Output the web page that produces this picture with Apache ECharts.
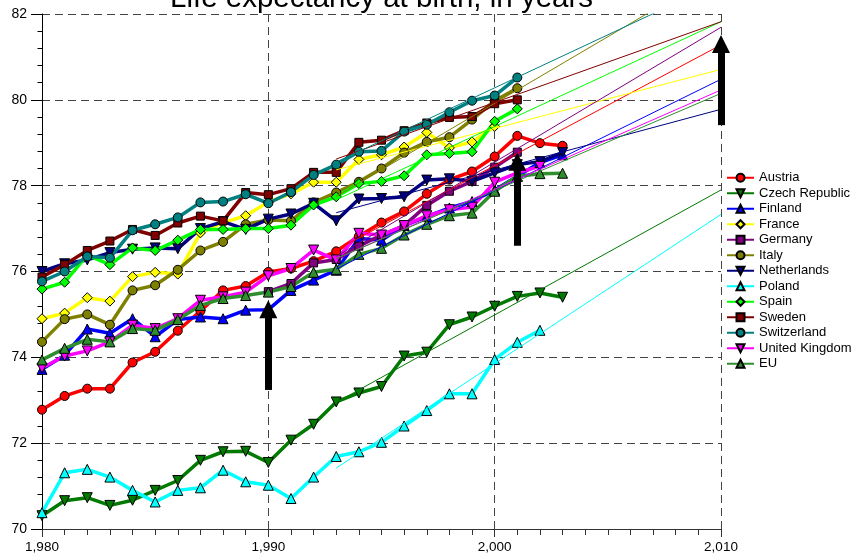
<!DOCTYPE html>
<html>
<head>
<meta charset="utf-8">
<script src="https://cdn.jsdelivr.net/npm/echarts@6/dist/echarts.min.js"></script>
<style>
html,body{margin:0;padding:0;background:#fff;}
#chart{width:862px;height:560px;}
</style>
</head>
<body>
<div id="chart"></div>
<script>
// ---- data ----
const years = [1980,1981,1982,1983,1984,1985,1986,1987,1988,1989,1990,1991,1992,1993,1994,1995,1996,1997,1998,1999,2000,2001,2002,2003];

const austria     = [72.78,73.10,73.27,73.27,73.88,74.13,74.62,75.08,75.56,75.66,75.99,76.07,76.24,76.47,76.82,77.14,77.40,77.81,78.14,78.33,78.68,79.16,78.99,78.93];
const czech       = [70.31,70.66,70.73,70.55,70.67,70.90,71.13,71.60,71.80,71.81,71.55,72.07,72.44,72.96,73.17,73.32,74.03,74.12,74.76,74.94,75.19,75.42,75.50,75.40];
const finland     = [73.72,74.05,74.66,74.56,74.90,74.48,74.88,74.94,74.90,75.10,75.11,75.56,75.80,76.03,76.77,76.73,77.07,77.28,77.48,77.63,77.90,78.22,78.54,78.72];
const france      = [74.90,75.03,75.39,75.31,75.88,75.98,75.94,76.90,77.14,77.30,77.62,77.81,78.08,78.08,78.61,78.72,78.90,79.24,78.88,79.02,79.38,null,null,null];
const germany     = [null,null,null,null,null,null,null,null,null,null,75.53,75.72,76.20,76.28,76.59,76.85,77.07,77.54,77.87,78.10,78.43,78.78,null,null];
const italy       = [74.36,74.89,75.00,74.76,75.56,75.68,76.04,76.49,76.69,77.10,77.20,77.18,77.61,77.84,78.09,78.40,78.77,79.02,79.13,79.54,79.98,80.27,null,null];
const netherlands = [76.00,76.18,76.27,76.44,76.52,76.55,76.53,77.00,77.16,76.98,77.22,77.34,77.59,77.18,77.69,77.70,77.74,78.13,78.16,78.10,78.30,78.49,78.56,78.77];
const poland      = [70.38,71.31,71.39,71.21,70.90,70.63,70.90,70.96,71.37,71.10,71.02,70.71,71.21,71.69,71.80,72.02,72.40,72.76,73.15,73.15,73.95,74.35,74.63,null];
const spain       = [75.59,75.75,76.38,76.16,76.55,76.49,76.73,76.98,76.98,77.00,77.00,77.08,77.55,77.74,78.05,78.10,78.23,78.72,78.75,78.79,79.50,79.79,null,null];
const sweden      = [75.87,76.16,76.49,76.71,76.98,76.84,77.13,77.29,77.18,77.84,77.79,77.93,78.31,78.31,79.01,79.06,79.28,79.46,79.59,79.61,79.91,80.00,null,null];
const switzerland = [75.77,76.00,76.35,76.32,76.96,77.10,77.26,77.61,77.63,77.80,77.59,77.85,78.25,78.49,78.79,78.81,79.26,79.42,79.71,79.98,80.10,80.52,null,null];
const uk          = [73.75,74.03,74.15,74.36,74.75,74.67,74.90,75.33,75.41,75.52,75.90,76.07,76.50,76.27,76.89,76.85,77.07,77.30,77.44,77.50,78.08,78.30,78.45,null];
const eu          = [73.94,74.21,74.42,74.36,74.67,74.63,74.88,75.21,75.37,75.44,75.52,75.65,75.98,76.05,76.40,76.54,76.85,77.10,77.30,77.36,77.87,78.22,78.28,78.29];

const names = ['Austria','Czech Republic','Finland','France','Germany','Italy','Netherlands','Poland','Spain','Sweden','Switzerland','United Kingdom','EU'];
const values = [austria,czech,finland,france,germany,italy,netherlands,poland,spain,sweden,switzerland,uk,eu];

// trend lines (1993 -> 2010)
const trendYears = [1993, 2010];
const trendStart = [76.50,72.95,76.06,78.37,76.35,77.75,77.37,71.42,77.67,78.62,78.55,76.30,76.30];
const trendEnd   = [81.28,77.90,80.48,80.71,81.69,83.02,79.78,77.33,81.82,81.82,82.75,80.23,80.15];

// arrows
const arrowYears = [1990, 2001, 2010];
const arrowFrom  = [73.24, 76.60, 79.41];
const arrowTo    = [75.12, 78.56, 81.30];

// ---- styles ----
const colors  = ['#ff0000','#007a00','#0000ff','#ffff00','#800080','#808000','#000080','#00ffff','#00ff00','#800000','#008080','#ff00ff','#2f8f2f'];
const symbols = ['circle','triangle','triangle','diamond','rect','circle','triangle','triangle','diamond','rect','circle','triangle','triangle'];
const rotates = [0,180,0,0,0,0,180,0,0,0,0,180,0];
const sizes   = [9,10,10,10,8,9,10,10,10,8,9,10,10];
const FONT = "'Liberation Sans', Arial, sans-serif";

const series = [];
values.forEach((vals, i) => {
  const data = [];
  years.forEach((y, j) => { if (vals[j] !== null) data.push([y, vals[j]]); });
  series.push({
    type: 'line', name: names[i], data: data,
    symbol: symbols[i], symbolRotate: rotates[i], symbolSize: sizes[i],
    lineStyle: { width: 3.5, color: colors[i] },
    itemStyle: { color: colors[i], borderColor: '#000', borderWidth: 1 },
    z: 2, silent: true
  });
});
values.forEach((vals, i) => {
  series.push({
    type: 'line', name: 'trend_' + i,
    data: [[trendYears[0], trendStart[i]], [trendYears[1], trendEnd[i]]],
    symbol: 'none', clip: true,
    lineStyle: { width: 1, color: colors[i] },
    z: 3, silent: true
  });
});
series.push({
  type: 'line', name: 'arrows', data: [], silent: true, z: 4,
  markLine: {
    silent: true, animation: false,
    symbol: ['none', 'triangle'], symbolSize: [18, 18],
    label: { show: false },
    lineStyle: { color: '#000', width: 7, type: 'solid' },
    itemStyle: { color: '#000' },
    emphasis: { disabled: true },
    data: arrowYears.map((x, k) => [{ coord: [x, arrowFrom[k]] }, { coord: [x, arrowTo[k]] }])
  }
});

const chart = echarts.init(document.getElementById('chart'), null, { renderer: 'canvas' });
chart.setOption({
  animation: false,
  backgroundColor: '#fff',
  title: {
    text: 'Life expectancy at birth, in years',
    left: 170, top: -16, padding: 0,
    textStyle: { fontFamily: FONT, fontSize: 29.5, fontWeight: 'normal', color: '#000' }
  },
  grid: { left: 42, right: 141, top: 14, bottom: 31, containLabel: false },
  legend: {
    orient: 'vertical', left: 726, top: 170, padding: 0,
    itemWidth: 27, itemHeight: 10, itemGap: 0,
    data: names,
    textStyle: { fontFamily: FONT, fontSize: 13, lineHeight: 15.5, color: '#000' },
    selectedMode: false
  },
  xAxis: {
    type: 'value', min: 1980, max: 2010, interval: 10,
    axisLine: { show: true, onZero: false, lineStyle: { color: '#333', width: 1 } },
    axisTick: { show: true, length: 8, lineStyle: { color: '#333' } },
    minorTick: { show: true, splitNumber: 10, length: 6, lineStyle: { color: '#333' } },
    axisLabel: { fontFamily: FONT, fontSize: 13.5, color: '#000', margin: 11 },
    splitLine: { show: true, lineStyle: { type: [8, 5], color: '#444', width: 1 } }
  },
  yAxis: {
    type: 'value', min: 70, max: 82, interval: 2,
    axisLine: { show: true, onZero: false, lineStyle: { color: '#000', width: 1 } },
    axisTick: { show: true, length: 11, lineStyle: { color: '#000' } },
    minorTick: { show: true, splitNumber: 5, length: 4.5, lineStyle: { color: '#000' } },
    axisLabel: { fontFamily: FONT, fontSize: 14, color: '#000', margin: 15 },
    splitLine: { show: true, lineStyle: { type: [8, 5], color: '#444', width: 1 } }
  },
  series: series
});
</script>
</body>
</html>
